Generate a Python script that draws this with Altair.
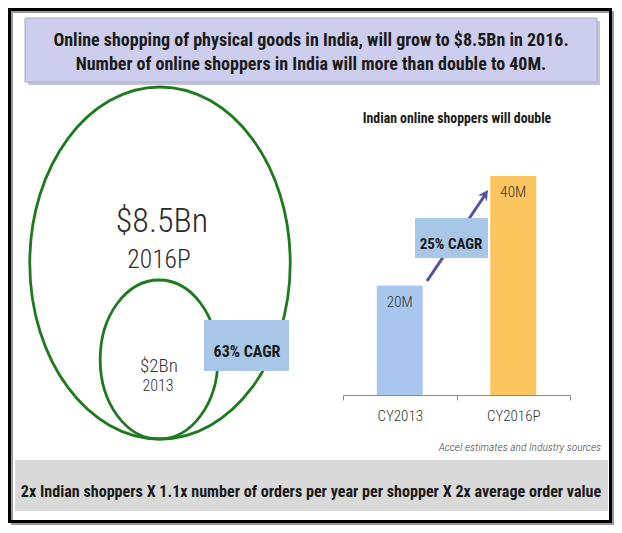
import altair as alt
import pandas as pd

# ---------------- data ----------------
market_years = ["2013", "2016P"]
market_values = [2.0, 8.5]            # $Bn
market_labels = ["$2Bn", "$8.5Bn"]
market_cagr = "63% CAGR"

shopper_years = ["CY2013", "CY2016P"]
shopper_values = [20, 40]             # millions
shopper_labels = ["20M", "40M"]
shopper_cagr = "25% CAGR"

title_lines = [
    "Online shopping of physical goods in India, will grow to $8.5Bn in 2016.",
    "Number of online shoppers in India will more than double to 40M.",
]
bar_title = "Indian online shoppers will double"
source_note = "Accel estimates and Industry sources"
footer_text = "2x Indian shoppers X 1.1x number of orders per year per shopper X 2x average order value"

# ---------------- layout (page pixel coordinates) ----------------
W, H = 606, 517
OX, OY = 8, 8
PX = alt.Scale(domain=[OX, OX + W], range=[0, W])
PY = alt.Scale(domain=[OY, OY + H], range=[0, H])

NARROW = "Roboto Condensed, Liberation Sans Narrow, Roboto, sans-serif"
GREEN = "#1f7a1f"
CAGR_BLUE = "#a8c6e8"


def px(field):
    return alt.X(field, type="quantitative", scale=PX, axis=None)


def py(field):
    return alt.Y(field, type="quantitative", scale=PY, axis=None)


def box(x0, y0, x1, y1, **kw):
    df = pd.DataFrame({"x": [x0], "x2": [x1], "y": [y0], "y2": [y1]})
    return alt.Chart(df).mark_rect(**kw).encode(
        x=px("x"), x2="x2", y=py("y"), y2="y2"
    )


def texts(items, **kw):
    df = pd.DataFrame(items, columns=["x", "y", "t"])
    return alt.Chart(df).mark_text(**kw).encode(x=px("x"), y=py("y"), text="t:N")


# frame
frame_shadow = box(OX + 4, OY + 4, OX + W - 1, OY + H - 1, fillOpacity=0,
                   stroke="#9a9a9a", strokeWidth=2)
frame = box(OX + 1.5, OY + 1.5, OX + W - 3.5, OY + H - 3.5,
            fillOpacity=0, stroke="black", strokeWidth=3)

# title box with shadow
title_shadow = box(28, 21, 600, 85, fill="#9d9db5", opacity=0.6)
title_box = box(25, 18, 597, 82, fill="#cdcdee", stroke="#a9a9c9", strokeWidth=1)
title_txt = texts(
    [(311, 46, title_lines[0]), (311, 70, title_lines[1])],
    font=NARROW, fontSize=18, fontWeight="bold", color="#1a1a1a",
    align="center", baseline="alphabetic",
)

# ---------------- nested market ellipses ----------------
K = 0.5523
RX = 0.74
ELLIPSE = (
    f"M 0 -1 C {RX*K:.4f} -1 {RX} -{K} {RX} 0 "
    f"C {RX} {K} {RX*K:.4f} 1 0 1 "
    f"C -{RX*K:.4f} 1 -{RX} {K} -{RX} 0 "
    f"C -{RX} -{K} -{RX*K:.4f} -1 0 -1 Z"
)
circ_df = pd.DataFrame({
    "year": market_years,
    "value": market_values,
    "cx": [159, 160],
    "cy": [359.5, 263],
})
ellipses = alt.Chart(circ_df).mark_point(
    shape=ELLIPSE, filled=False, strokeWidth=2.8, color=GREEN, opacity=1
).encode(
    x=px("cx"), y=py("cy"),
    size=alt.Size("value:Q", scale=alt.Scale(domain=[2, 8.5], range=[25281, 123904]),
                  legend=None),
)

big_val = texts([(162, 222, market_labels[1])], font=NARROW, fontSize=34, fontWeight=300,
                color="#2a2a2a", align="center")
big_year = texts([(159, 260, market_years[1])], font=NARROW, fontSize=25.5, fontWeight=300,
                 color="#2a2a2a", align="center")
small_val = texts([(159, 366, market_labels[0])], font=NARROW, fontSize=19, fontWeight=300,
                  color="#333333", align="center")
small_year = texts([(158, 386, market_years[0])], font=NARROW, fontSize=16, fontWeight=300,
                   color="#333333", align="center")

cagr1_box = box(204, 320, 289, 371, fill=CAGR_BLUE)
cagr1_txt = texts([(247, 352, market_cagr)], font=NARROW, fontSize=16,
                  fontWeight="bold", color="#1a1a1a", align="center")

# ---------------- bar chart ----------------
bar_df = pd.DataFrame({"year": shopper_years, "value": shopper_values, "label": shopper_labels})
XB = alt.Scale(domain=shopper_years, range=[343 - OX, 570 - OX], paddingInner=0, paddingOuter=0)
YB = alt.Scale(domain=[0, 40], range=[395 - OY, 176 - OY], nice=False, zero=True)

bars = alt.Chart(bar_df).mark_bar(width=alt.RelativeBandSize(0.405)).encode(
    x=alt.X("year:N", scale=XB, sort=shopper_years,
            axis=alt.Axis(title=None, orient="bottom", offset=-(H - (395 - OY)),
                          domainColor="#8c8c8c", tickColor="#8c8c8c", tickBand="extent",
                          tickSize=5, labelFont=NARROW, labelFontSize=15,
                          labelFontWeight=300,
                          labelColor="#333333", labelPadding=8, labelAngle=0,
                          grid=False, zindex=1)),
    y=alt.Y("value:Q", scale=YB, axis=None),
    color=alt.Color("year:N", scale=alt.Scale(domain=shopper_years,
                                              range=["#a9c6ef", "#fcc55e"]), legend=None),
)
bar_labels = alt.Chart(bar_df).mark_text(
    font=NARROW, fontSize=15, fontWeight=300, color="#333333", baseline="middle", dy=16
).encode(
    x=alt.X("year:N", scale=XB, sort=shopper_years, axis=None),
    y=alt.Y("value:Q", scale=YB, axis=None),
    text="label:N",
)

bar_head = texts([(457, 119, bar_title)], font=NARROW, fontSize=13.8, fontWeight="bold",
                 color="#1a1a1a", align="center")

arrow_df = pd.DataFrame({"x": [427], "y": [281], "x2": [485], "y2": [195]})
arrow_line = alt.Chart(arrow_df).mark_rule(color="#5252a6", strokeWidth=3).encode(
    x=px("x"), y=py("y"), x2="x2", y2="y2"
)
head_df = pd.DataFrame({"x": [488], "y": [190]})
arrow_head = alt.Chart(head_df).mark_point(
    shape="M 0 0 L -0.85 1.6 L 0 1.1 L 0.85 1.6 Z", filled=True, size=160,
    angle=34, color="#5252a6", opacity=1
).encode(x=px("x"), y=py("y"))

cagr2_box = box(415, 218, 488, 258, fill=CAGR_BLUE)
cagr2_txt = texts([(451, 244, shopper_cagr)], font=NARROW, fontSize=15,
                  fontWeight="bold", color="#1a1a1a", align="center")

source_txt = texts([(601, 448, source_note)], font=NARROW, fontSize=11.5, fontStyle="italic",
                   fontWeight=300, color="#444444", align="right")

# ---------------- footer ----------------
footer_box = box(15, 460, 608, 511, fill="#d9d9d9")
footer_txt = texts([(311, 492, footer_text)], font=NARROW, fontSize=16.1, fontWeight="bold",
                   color="#1a1a1a", align="center")

chart = alt.layer(
    frame_shadow, frame, title_shadow, title_box, title_txt,
    ellipses, big_val, big_year, small_val, small_year, cagr1_box, cagr1_txt,
    bars, bar_labels, bar_head, arrow_line, arrow_head, cagr2_box, cagr2_txt,
    source_txt, footer_box, footer_txt,
).resolve_scale(
    x="independent", y="independent", color="independent", size="independent"
).properties(
    width=W, height=H, padding=0, background="white",
    autosize=alt.AutoSizeParams(type="none"),
).configure_view(stroke=None)

chart.save("out.html", embed_options={"renderer": "svg", "actions": False})
